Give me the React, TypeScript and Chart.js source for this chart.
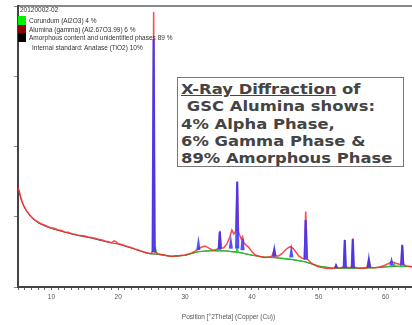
import React, { useEffect, useRef } from 'react';
import { Chart, registerables } from 'chart.js';

Chart.register(...registerables);

// Observed pattern (red)
const observedTheta = [
  5.0, 5.2, 5.4, 5.6, 5.8, 6.0, 6.3, 6.6, 7.0, 7.4, 7.8, 8.2, 8.6, 9.0, 9.5, 10.0, 10.5, 11.0, 11.5, 12.0,
  12.5, 13.0, 13.5, 14.0, 14.5, 15.0, 15.5, 16.0, 16.5, 17.0, 17.5, 18.0, 18.5, 19.0, 19.4, 19.7, 20.0, 20.5,
  21.0, 21.5, 22.0, 22.5, 23.0, 23.5, 24.0, 24.5, 24.9, 25.15, 25.3, 25.45, 25.6, 25.9, 26.5, 27.0, 27.5, 28.0,
  28.5, 29.0, 29.5, 30.0, 30.5, 31.0, 31.5, 32.0, 32.5, 33.0, 33.5, 34.0, 34.5, 35.0, 35.2, 35.4, 35.8, 36.3,
  36.7, 37.0, 37.3, 37.6, 37.8, 38.0, 38.4, 38.6, 38.8, 39.2, 39.5, 39.9, 40.4, 41.0, 41.5, 42.0, 42.5, 43.0,
  43.35, 43.6, 44.0, 44.5, 45.0, 45.5, 45.8, 46.2, 46.6, 47.0, 47.5, 47.85, 48.05, 48.3, 48.8, 49.3, 50.0, 50.5,
  51.0, 51.5, 52.0, 52.4, 52.6, 52.8, 53.3, 53.75, 53.9, 54.05, 54.5, 54.95, 55.1, 55.25, 55.8, 56.5, 57.2, 57.5,
  57.8, 58.5, 59.0, 59.5, 60.0, 60.5, 60.9, 61.3, 61.8, 62.3, 62.5, 62.7, 63.2, 64.0, 65.0, 66.0, 66.5, 67.0, 68.0,
];
const observedCounts = [
  1350, 1290, 1220, 1160, 1110, 1075, 1030, 990, 950, 915, 890, 870, 850, 835, 815, 800, 790, 770, 765, 745,
  740, 720, 715, 700, 695, 690, 675, 668, 660, 645, 640, 622, 612, 598, 625, 610, 585, 575,
  560, 545, 532, 515, 500, 485, 470, 455, 450, 480, 3720, 500, 470, 450, 440, 430, 420, 412,
  418, 420, 428, 432, 445, 462, 485, 520, 540, 555, 530, 505, 500, 520, 760, 525, 530, 590,
  680, 770, 720, 760, 1430, 740, 650, 680, 600, 560, 540, 490, 440, 415, 405, 400, 405, 415,
  510, 420, 420, 450, 500, 535, 545, 520, 470, 420, 390, 380, 1020, 380, 330, 300, 275, 262,
  255, 252, 250, 255, 295, 258, 260, 275, 640, 275, 262, 270, 655, 270, 258, 252, 260, 375,
  265, 262, 268, 280, 298, 320, 345, 330, 315, 300, 560, 300, 285, 275, 270, 300, 310, 285, 270,
];

// Background / amorphous (dark grey)
const backgroundTheta = [
  5.0, 5.5, 6.0, 7.0, 8.0, 9.0, 10.0, 12.0, 14.0, 16.0, 18.0, 20.0, 22.0, 24.0, 25.0, 26.0, 28.0, 30.0,
  32.0, 34.0, 36.0, 38.0, 40.0, 42.0, 44.0, 46.0, 48.0, 50.0, 52.0, 54.0, 56.0, 58.0, 60.0, 62.0, 64.0, 66.0, 68.0,
];
const backgroundCounts = [
  1340, 1170, 1065, 940, 865, 825, 790, 740, 695, 660, 615, 580, 525, 465, 448, 440, 415, 428,
  478, 492, 488, 470, 430, 402, 392, 372, 340, 282, 256, 254, 254, 260, 272, 280, 275, 270, 264,
];

// Calculated profile peaks (blue)
const calcPeakTheta = [25.3, 32.0, 35.2, 36.85, 37.8, 38.6, 43.35, 45.9, 48.05, 52.6, 53.9, 55.1, 57.5, 60.9, 62.5];
const calcPeakTop = [3350, 595, 745, 610, 1420, 650, 500, 490, 905, 285, 635, 650, 365, 350, 570];
const calcPeakBase = [470, 500, 510, 520, 520, 500, 410, 400, 370, 255, 255, 255, 260, 290, 290];

// Corundum peaks (green)
const corundumPeakTheta = [25.6, 35.15, 37.8, 43.35, 52.55, 57.5, 61.3, 66.5];
const corundumPeakTop = [520, 570, 540, 470, 300, 330, 320, 330];
const corundumPeakBase = [455, 490, 470, 400, 256, 260, 285, 270];

const xTickValues = [10, 20, 30, 40, 50, 60];
const legendTitle = '20120002-02';
const legendItems = [
  { label: 'Corundum (Al2O3) 4 %', color: '#00ee00' },
  { label: 'Alumina (gamma) (Al2.67O3.99) 6 %', color: '#8b0000' },
  { label: 'Amorphous content and unidentified phases 89 %', color: '#000000' },
];
const legendNote = 'Internal standard: Anatase (TiO2) 10%';
const xAxisTitle = 'Position [°2Theta] (Copper (Cu))';

const HALF = 0.15;

function peakPoints(pos: number[], top: number[], base: number[], withGaps: boolean) {
  const pts: any[] = [];
  pos.forEach((p, i) => {
    pts.push({ x: p - HALF, y: base[i] });
    pts.push({ x: p, y: top[i] });
    pts.push({ x: p + HALF, y: base[i] });
    if (withGaps) pts.push({ x: p + HALF + 0.01, y: null });
  });
  return pts;
}

export default function App() {
  const ref = useRef<HTMLCanvasElement>(null);

  useEffect(() => {
    const observed = observedTheta.map((x, i) => ({ x, y: observedCounts[i] }));
    const background = backgroundTheta.map((x, i) => ({ x, y: backgroundCounts[i] }));
    const calc = peakPoints(calcPeakTheta, calcPeakTop, calcPeakBase, true);
    const green = background
      .filter((p) => p.x >= 24)
      .concat(peakPoints(corundumPeakTheta, corundumPeakTop, corundumPeakBase, false))
      .sort((a, b) => a.x - b.x);

    const chart = new Chart(ref.current!, {
      type: 'line',
      data: {
        datasets: [
          { label: 'Calculated', data: calc, borderColor: 'rgba(50,50,255,0.85)', borderWidth: 2.2, spanGaps: false },
          { label: 'Observed', data: observed, borderColor: 'rgba(255,40,40,0.85)', borderWidth: 1.5 },
          { label: 'Corundum', data: green, borderColor: 'rgba(30,200,30,0.9)', borderWidth: 1.3 },
          { label: 'Background', data: background, borderColor: '#555555', borderWidth: 1 },
        ],
      },
      options: {
        animation: false,
        responsive: false,
        layout: { padding: 0 },
        elements: { point: { radius: 0 }, line: { tension: 0 } },
        plugins: { legend: { display: false }, tooltip: { enabled: false } },
        scales: {
          x: {
            type: 'linear',
            position: 'bottom',
            min: 5,
            max: 68,
            afterBuildTicks: (axis: any) => {
              const t: any[] = [];
              for (let v = 5; v <= 68; v++) t.push({ value: v });
              axis.ticks = t;
            },
            ticks: {
              autoSkip: false,
              maxRotation: 0,
              color: '#555',
              padding: 3,
              font: { size: 6.5, family: 'Liberation Sans' },
              callback: (v: any) => (xTickValues.includes(Number(v)) ? String(v) : ''),
            },
            grid: { drawOnChartArea: false, drawTicks: true, tickLength: 3, color: '#666' },
            border: { display: true, color: '#444', width: 2 },
            title: {
              display: true,
              text: xAxisTitle,
              color: '#555',
              font: { size: 6.5, family: 'Liberation Sans' },
              padding: { top: 6, bottom: 4 },
            },
            afterFit: (a: any) => {
              a.height = 38;
            },
          },
          xTop: {
            type: 'linear',
            axis: 'x',
            position: 'top',
            min: 5,
            max: 68,
            ticks: { display: false },
            grid: { display: false },
            border: { display: true, color: '#888', width: 2 },
            afterFit: (a: any) => {
              a.height = 6;
            },
          },
          y: {
            type: 'linear',
            min: 0,
            max: 3800,
            ticks: { display: false, stepSize: 1000, includeBounds: false },
            grid: { drawOnChartArea: false, drawTicks: true, tickLength: 4, color: '#888' },
            border: { display: true, color: '#444', width: 2 },
            afterFit: (a: any) => {
              a.width = 18;
            },
          },
        },
      } as any,
    });
    return () => chart.destroy();
  }, []);

  const legendFont: React.CSSProperties = {
    position: 'absolute',
    fontFamily: 'Liberation Sans, Arial, sans-serif',
    fontSize: '6.5px',
    lineHeight: '8px',
    color: '#333',
    whiteSpace: 'nowrap',
  };

  const lineStyle: React.CSSProperties = { display: 'block', whiteSpace: 'nowrap' };

  return (
    <div style={{ position: 'absolute', left: 0, top: 0, width: 412, height: 325, overflow: 'hidden', background: '#fff' }}>
      <canvas ref={ref} width={442} height={325} style={{ position: 'absolute', left: 0, top: 0, width: 442, height: 325 }} />
      <div style={{ ...legendFont, left: 20, top: 6 }}>{legendTitle}</div>
      {legendItems.map((it, i) => (
        <React.Fragment key={it.label}>
          <div style={{ position: 'absolute', left: 18, top: 16 + i * 8.5, width: 8, height: 8.5, background: it.color }} />
          <div style={{ ...legendFont, left: 29, top: 17 + i * 8.5 }}>{it.label}</div>
        </React.Fragment>
      ))}
      <div style={{ ...legendFont, left: 32, top: 44 }}>{legendNote}</div>
      <div
        style={{
          position: 'absolute',
          left: 177,
          top: 77,
          width: 227,
          height: 90,
          boxSizing: 'border-box',
          border: '1.5px solid #777',
          background: '#fff',
        }}
      >
        <div
          style={{
            position: 'absolute',
            left: 3,
            top: 3,
            fontFamily: 'DejaVu Sans, Verdana, sans-serif',
            fontWeight: 'bold',
            fontSize: '14px',
            lineHeight: '17.3px',
            color: '#444',
            transform: 'scaleX(1.17)',
            transformOrigin: 'left top',
          }}
        >
          <span style={lineStyle}>
            <span style={{ textDecoration: 'underline' }}>X-Ray Diffraction</span> of
          </span>
          <span style={{ ...lineStyle, paddingLeft: 5 }}>GSC Alumina shows:</span>
          <span style={lineStyle}>4% Alpha Phase,</span>
          <span style={lineStyle}>6% Gamma Phase &amp;</span>
          <span style={lineStyle}>89% Amorphous Phase</span>
        </div>
      </div>
    </div>
  );
}
